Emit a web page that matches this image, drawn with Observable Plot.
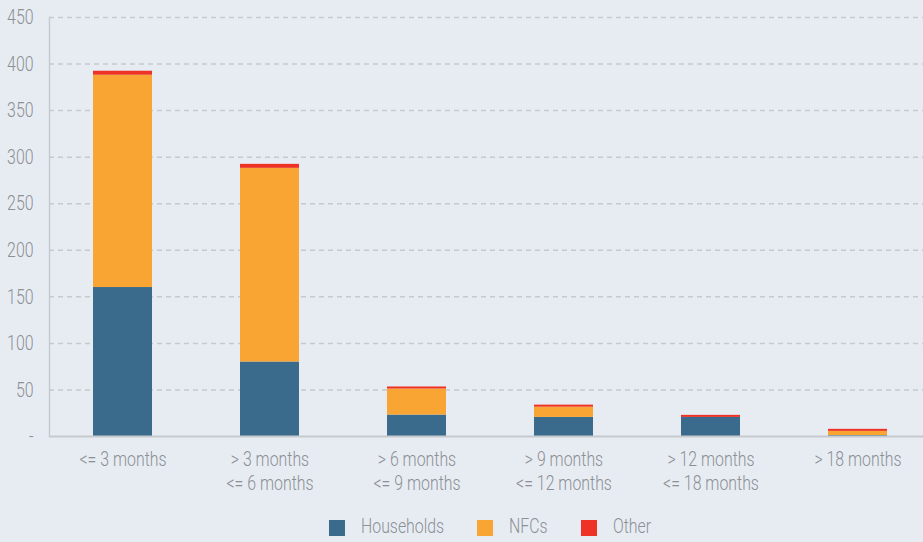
<!DOCTYPE html>
<html>
<head>
<meta charset="utf-8">
<script src="https://cdn.jsdelivr.net/npm/d3@7"></script>
<script src="https://cdn.jsdelivr.net/npm/@observablehq/plot@0.6"></script>
<style>
  html, body { margin: 0; padding: 0; background: #e7ecf3; }
  #chart { position: relative; width: 923px; height: 542px; overflow: hidden; }
  .legend { position: absolute; left: 0; top: 505px; width: 923px; height: 37px;
            font-size: 21px; color: #8c8f94; }
  .legend .sw { position: absolute; top: 15px; width: 16px; height: 16px; }
  .legend .lab { position: absolute; top: 9px; white-space: nowrap; transform-origin: 0 50%; }
</style>
</head>
<body>
<div id="chart"></div>
<script>
// Maturity buckets and amounts per borrower type (stacked bottom to top)
const categories = ["<= 3 months", "> 3 months\n<= 6 months", "> 6 months\n<= 9 months",
                    "> 9 months\n<= 12 months", "> 12 months\n<= 18 months", "> 18 months"];
const seriesNames = ["Households", "NFCs", "Other"];
const households = [160, 80, 23, 20.5, 20.5, 1];
const nfcs = [228, 208, 28, 11, 0, 4.5];
const other = [4.3, 4.3, 2.2, 2.2, 2.2, 2.2];
const seriesColors = ["#3a6b8c", "#f9a533", "#ee3326"];
const yTicks = [0, 50, 100, 150, 200, 250, 300, 350, 400, 450];

const seriesValues = [households, nfcs, other];
const rows = [];
seriesNames.forEach((s, i) => {
  categories.forEach((c, j) => rows.push({cat: c, series: s, value: seriesValues[i][j]}));
});

const font = 'Roboto, "Liberation Sans", sans-serif';
const fontWeight = 300;
const fontSize = 21;
const grey = "#8c8f94";
const lineColor = "#c6c9cd";

// Horizontal squeeze that gives the labels a condensed look
const ctx = document.createElement("canvas").getContext("2d");
ctx.font = `${fontWeight} ${fontSize}px ${font}`;
const squeeze = 87 / ctx.measureText("<= 3 months").width;

const chart = Plot.plot({
  width: 923,
  height: 505,
  marginLeft: 49,
  marginRight: 0,
  marginTop: 17,
  marginBottom: 69,
  style: {background: "transparent", fontFamily: font, fontSize: fontSize + "px",
          fontWeight: fontWeight, color: grey, overflow: "visible"},
  x: {domain: categories, range: [49, 931], paddingInner: 0.6, paddingOuter: 0.3, label: null},
  y: {domain: [0, 450], label: null},
  color: {domain: seriesNames, range: seriesColors},
  marks: [
    Plot.ruleY(yTicks.filter(d => d > 0), {stroke: lineColor, strokeWidth: 1.5, strokeDasharray: "5,4"}),
    Plot.barY(rows, {x: "cat", y: "value", fill: "series", order: seriesNames}),
    Plot.ruleY([0], {stroke: lineColor, strokeWidth: 2}),
    Plot.frame({anchor: "left", stroke: lineColor, strokeWidth: 1.5}),
    Plot.axisY({ticks: yTicks, tickSize: 0, tickPadding: 16, label: null,
                tickFormat: d => d === 0 ? "-" : String(d), fill: grey}),
    Plot.axisX({tickSize: 0, tickPadding: 12, lineHeight: 1.15, label: null, fill: grey})
  ]
});

chart.querySelectorAll('g[aria-label$="tick label"] text').forEach(t => {
  const tr = t.getAttribute("transform") || "";
  t.setAttribute("transform", `${tr} scale(${squeeze},1)`);
});

const root = document.getElementById("chart");
root.appendChild(chart);

// Legend row under the chart
const legend = document.createElement("div");
legend.className = "legend";
legend.style.fontFamily = font;
legend.style.fontWeight = fontWeight;
const swatchX = [329, 477, 581];
seriesNames.forEach((s, i) => {
  const sw = document.createElement("div");
  sw.className = "sw";
  sw.style.left = swatchX[i] + "px";
  sw.style.background = seriesColors[i];
  const label = document.createElement("div");
  label.className = "lab";
  label.style.left = (swatchX[i] + 32) + "px";
  label.style.transform = `scaleX(${squeeze})`;
  label.textContent = s;
  legend.appendChild(sw);
  legend.appendChild(label);
});
root.appendChild(legend);
</script>
</body>
</html>
